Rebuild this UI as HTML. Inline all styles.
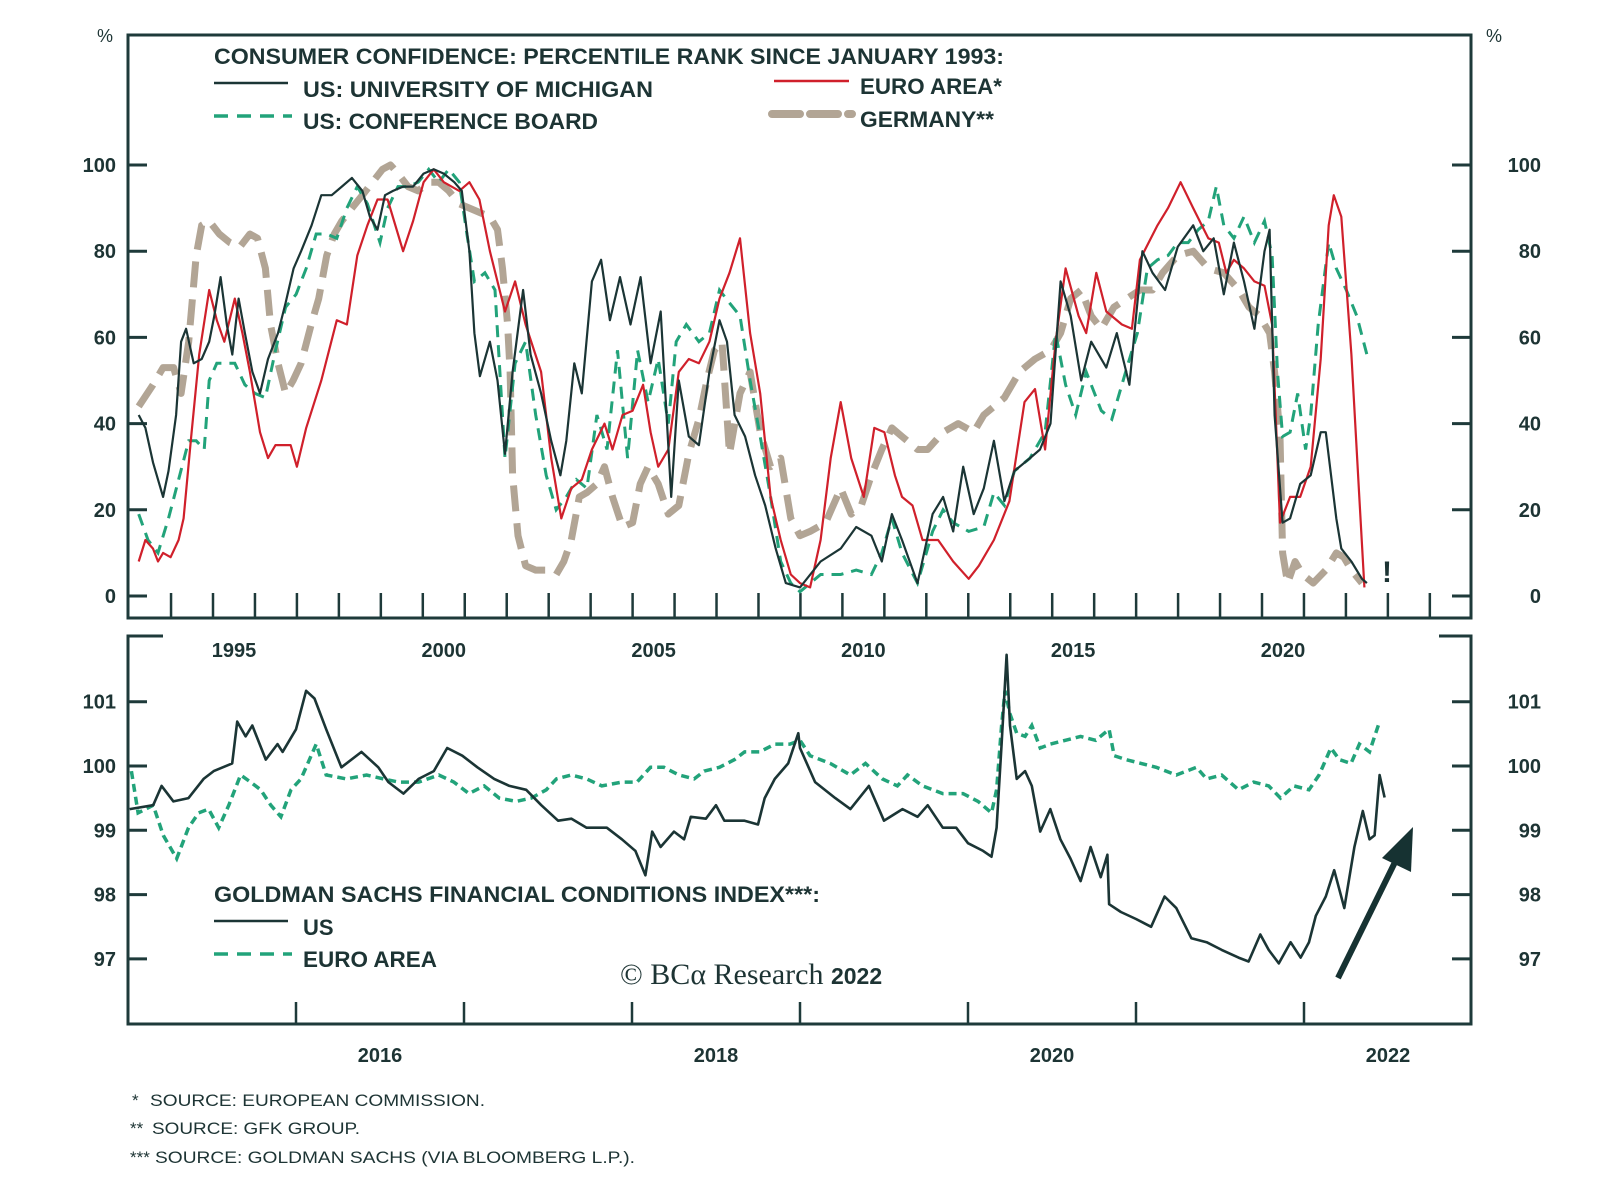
<!DOCTYPE html>
<html><head><meta charset="utf-8"><style>
html,body{margin:0;padding:0;background:#fff;}
svg{display:block;}
text{font-family:"Liberation Sans",sans-serif;fill:#1d3434;}
</style></head><body>
<svg id="chart" width="1600" height="1196" viewBox="0 0 1600 1196" xmlns="http://www.w3.org/2000/svg">
<g id="top-panel"></g>
<g id="bot-panel"></g>
<g>
<text x="214" y="64" font-size="22" font-weight="bold" textLength="790" lengthAdjust="spacingAndGlyphs">CONSUMER CONFIDENCE: PERCENTILE RANK SINCE JANUARY 1993:</text>
<line x1="214" y1="83" x2="288" y2="83" stroke="#1b3535" stroke-width="2.5"/>
<text x="303" y="97" font-size="22" font-weight="bold" textLength="350" lengthAdjust="spacingAndGlyphs">US: UNIVERSITY OF MICHIGAN</text>
<line x1="214" y1="116" x2="292" y2="116" stroke="#22a37a" stroke-width="3.5" stroke-dasharray="14,9"/>
<text x="303" y="129" font-size="22" font-weight="bold" textLength="295" lengthAdjust="spacingAndGlyphs">US: CONFERENCE BOARD</text>
<line x1="774" y1="81" x2="849" y2="81" stroke="#d0202b" stroke-width="2.5"/>
<text x="860" y="94" font-size="22" font-weight="bold" textLength="142" lengthAdjust="spacingAndGlyphs">EURO AREA*</text>
<line x1="772" y1="114" x2="852" y2="114" stroke="#b2a595" stroke-width="8" stroke-dasharray="28,10" stroke-linecap="round"/>
<text x="860" y="127" font-size="22" font-weight="bold" textLength="134" lengthAdjust="spacingAndGlyphs">GERMANY**</text>
</g>
<g>
<text x="214" y="902" font-size="22" font-weight="bold" textLength="606" lengthAdjust="spacingAndGlyphs">GOLDMAN SACHS FINANCIAL CONDITIONS INDEX***:</text>
<line x1="214" y1="921" x2="288" y2="921" stroke="#1b3535" stroke-width="2.5"/>
<text x="303" y="935" font-size="22" font-weight="bold">US</text>
<line x1="214" y1="954" x2="292" y2="954" stroke="#22a37a" stroke-width="3.5" stroke-dasharray="14,9"/>
<text x="303" y="967" font-size="22" font-weight="bold" textLength="134" lengthAdjust="spacingAndGlyphs">EURO AREA</text>
<text x="620" y="984" font-size="30" style="font-family:'Liberation Serif',serif">© BCα Research <tspan font-family="Liberation Sans" font-weight="bold" font-size="23">2022</tspan></text>
</g>
<g>
<text x="132" y="1106" font-size="17">*  <tspan x="150" textLength="335" lengthAdjust="spacingAndGlyphs">SOURCE: EUROPEAN COMMISSION.</tspan></text>
<text x="130" y="1134" font-size="17">**  <tspan x="152" textLength="208" lengthAdjust="spacingAndGlyphs">SOURCE: GFK GROUP.</tspan></text>
<text x="130" y="1163" font-size="17">*** <tspan x="155" textLength="480" lengthAdjust="spacingAndGlyphs">SOURCE: GOLDMAN SACHS (VIA BLOOMBERG L.P.).</tspan></text>
</g>
</svg>
<script>
// ---------- TOP PANEL DATA ----------
const michT=[1993.23,1993.39,1993.57,1993.69,1993.81,1993.94,1994.12,1994.24,1994.36,1994.54,1994.73,1994.91,1995.03,1995.18,1995.33,1995.46,1995.61,1995.76,1995.94,1996.12,1996.31,1996.55,1996.73,1996.92,1997.10,1997.35,1997.58,1997.83,1998.07,1998.31,1998.56,1998.74,1998.92,1999.10,1999.29,1999.53,1999.77,2000.02,2000.26,2000.50,2000.75,2000.93,2001.11,2001.23,2001.36,2001.60,2001.78,2001.96,2002.14,2002.39,2002.57,2002.82,2003.06,2003.28,2003.42,2003.61,2003.79,2004.03,2004.25,2004.46,2004.70,2004.95,2005.19,2005.43,2005.67,2005.92,2006.10,2006.34,2006.58,2006.83,2007.07,2007.25,2007.43,2007.68,2007.92,2008.16,2008.41,2008.65,2008.99,2009.48,2009.96,2010.33,2010.69,2010.94,2011.18,2011.42,2011.79,2012.15,2012.40,2012.64,2012.88,2013.13,2013.37,2013.61,2013.86,2014.10,2014.47,2014.71,2014.96,2015.20,2015.44,2015.69,2015.93,2016.29,2016.54,2016.84,2017.15,2017.39,2017.69,2017.99,2018.36,2018.60,2018.85,2019.09,2019.33,2019.57,2019.82,2020.06,2020.18,2020.30,2020.49,2020.67,2020.91,2021.16,2021.40,2021.52,2021.77,2021.89,2022.13,2022.38,2022.50];
const michV=[42,39,31,27,23,29,42,59,62,54,55,59,65,74,63,56,69,61,52,47,55,61,68,76,80,86,93,93,95,97,94,88,85,93,94,95,95,98,99,98,96,94,80,61,51,59,50,33,52,71,56,47,36,28,36,54,47,73,78,64,74,63,74,54,66,23,50,37,35,52,64,59,42,37,28,21,11,3,2,8,11,16,14,8,19,13,3,19,23,15,30,19,25,36,22,29,32,34,40,73,65,50,59,53,61,49,80,75,71,81,86,80,83,70,82,73,62,80,85,42,17,18,26,28,38,38,18,11,8,4,3];
const confT=[1993.23,1993.45,1993.69,1993.94,1994.18,1994.42,1994.60,1994.79,1994.91,1995.09,1995.27,1995.52,1995.76,1996.00,1996.25,1996.49,1996.73,1996.98,1997.22,1997.46,1997.71,1997.95,1998.19,1998.44,1998.68,1998.98,1999.16,1999.41,1999.65,1999.89,2000.14,2000.38,2000.62,2000.87,2001.05,2001.23,2001.48,2001.72,2001.96,2002.20,2002.45,2002.69,2002.94,2003.18,2003.42,2003.66,2003.91,2004.15,2004.39,2004.64,2004.88,2005.12,2005.37,2005.61,2005.85,2006.04,2006.28,2006.58,2006.83,2007.07,2007.31,2007.56,2007.80,2008.04,2008.29,2008.53,2008.77,2008.99,2009.48,2009.96,2010.33,2010.69,2010.94,2011.18,2011.42,2011.79,2012.15,2012.40,2012.64,2013.01,2013.37,2013.61,2013.86,2014.10,2014.47,2014.83,2015.08,2015.32,2015.56,2015.81,2016.17,2016.42,2016.78,2017.03,2017.27,2017.51,2017.76,2017.99,2018.24,2018.48,2018.72,2018.91,2019.09,2019.33,2019.57,2019.82,2020.06,2020.24,2020.37,2020.49,2020.67,2020.85,2021.04,2021.16,2021.34,2021.59,2021.77,2022.01,2022.26,2022.50];
const confV=[19,13,10,18,27,36,36,34,50,54,54,54,49,47,46,57,67,70,76,84,84,83,90,95,91,82,90,95,95,96,99,96,99,96,84,73,75,71,32,54,59,42,28,20,23,27,25,42,34,57,32,57,45,55,40,59,63,59,61,71,68,65,50,37,23,8,3,1,5,5,6,5,10,18,10,3,15,20,17,15,16,24,21,29,32,38,61,49,42,52,43,41,53,61,76,78,79,82,82,85,87,95,86,83,88,82,87,79,52,37,38,47,34,42,63,82,76,71,65,56];
const euroT=[1993.23,1993.39,1993.57,1993.69,1993.81,1993.99,1994.18,1994.30,1994.48,1994.67,1994.91,1995.09,1995.27,1995.52,1995.70,1995.88,1996.12,1996.31,1996.49,1996.85,1997.00,1997.22,1997.58,1997.95,1998.19,1998.44,1998.68,1998.92,1999.16,1999.53,1999.77,2000.02,2000.26,2000.50,2000.87,2001.11,2001.35,2001.60,2001.96,2002.20,2002.45,2002.82,2003.06,2003.30,2003.54,2003.79,2004.03,2004.33,2004.52,2004.76,2005.00,2005.25,2005.43,2005.61,2005.85,2006.10,2006.34,2006.58,2006.83,2007.07,2007.31,2007.56,2007.80,2008.04,2008.29,2008.53,2008.77,2008.99,2009.23,2009.48,2009.72,2009.96,2010.21,2010.51,2010.76,2011.00,2011.25,2011.42,2011.67,2011.91,2012.28,2012.64,2013.01,2013.25,2013.61,2013.98,2014.34,2014.59,2014.83,2015.08,2015.32,2015.63,2015.81,2016.05,2016.29,2016.66,2016.90,2017.09,2017.51,2017.76,2018.06,2018.36,2018.72,2018.97,2019.15,2019.33,2019.57,2019.82,2020.06,2020.24,2020.43,2020.67,2020.91,2021.16,2021.40,2021.59,2021.71,2021.89,2022.13,2022.32,2022.44];
const euroV=[8,13,11,8,10,9,13,18,37,56,71,64,59,69,61,52,38,32,35,35,30,39,50,64,63,79,86,92,92,80,87,96,99,96,94,96,92,80,66,73,63,52,32,18,25,27,34,40,34,42,43,49,38,30,34,52,55,54,59,69,75,83,61,47,23,13,5,3,2,13,32,45,32,23,39,38,28,23,21,13,13,8,4,7,13,22,45,48,34,59,76,65,61,75,66,63,62,78,86,90,96,90,83,82,75,78,76,73,72,63,17,23,23,30,55,86,93,88,56,23,2];
const gerT=[1993.23,1993.57,1993.81,1994.06,1994.24,1994.42,1994.60,1994.73,1994.91,1995.15,1995.40,1995.64,1995.88,1996.06,1996.25,1996.37,1996.55,1996.73,1996.91,1997.10,1997.34,1997.52,1997.71,1997.89,1998.07,1998.31,1998.56,1998.80,1999.04,1999.23,1999.41,1999.65,1999.89,2000.14,2000.38,2000.62,2000.87,2001.11,2001.35,2001.60,2001.78,2001.90,2002.02,2002.08,2002.14,2002.27,2002.45,2002.69,2002.94,2003.18,2003.36,2003.54,2003.73,2003.91,2004.15,2004.33,2004.52,2004.76,2005.00,2005.18,2005.37,2005.61,2005.85,2006.10,2006.34,2006.58,2006.77,2006.95,2007.13,2007.31,2007.56,2007.80,2008.04,2008.29,2008.53,2008.77,2008.99,2009.23,2009.60,2009.96,2010.21,2010.45,2010.69,2010.94,2011.18,2011.42,2011.79,2012.03,2012.40,2012.76,2013.13,2013.37,2013.86,2014.22,2014.59,2014.96,2015.20,2015.44,2015.69,2015.93,2016.17,2016.47,2016.78,2017.09,2017.39,2017.63,2017.99,2018.36,2018.72,2019.09,2019.45,2019.69,2019.94,2020.18,2020.30,2020.43,2020.49,2020.61,2020.79,2020.97,2021.22,2021.52,2021.77,2021.95,2022.13,2022.38];
const gerV=[44,49,53,53,47,59,79,86,87,84,82,81,84,83,76,63,54,47,50,54,63,69,79,84,87,90,93,96,99,100,98,95,94,96,96,94,91,90,89,88,85,76,63,52,28,14,7,6,6,5,8,13,23,24,26,30,23,16,17,26,30,26,19,21,33,41,50,57,59,33,47,52,38,30,32,18,14,15,17,25,19,21,28,34,39,37,34,34,38,40,38,42,46,52,55,57,61,69,71,65,62,67,69,71,71,75,79,80,76,75,71,67,65,61,52,37,10,3,8,5,3,6,10,9,6,3];
const topTicksY=[0,20,40,60,80,100];
const topYearLabels=[1995,2000,2005,2010,2015,2020];
// ---------- BOTTOM PANEL DATA ----------
const usT=[2015.01,2015.15,2015.20,2015.27,2015.36,2015.45,2015.51,2015.62,2015.65,2015.70,2015.74,2015.82,2015.89,2015.92,2016.00,2016.06,2016.11,2016.18,2016.27,2016.39,2016.49,2016.55,2016.64,2016.73,2016.82,2016.90,2016.99,2017.08,2017.18,2017.27,2017.37,2017.46,2017.56,2017.64,2017.73,2017.85,2017.94,2018.02,2018.08,2018.12,2018.17,2018.25,2018.31,2018.35,2018.44,2018.50,2018.55,2018.67,2018.75,2018.79,2018.85,2018.93,2018.99,2019.00,2019.09,2019.21,2019.30,2019.41,2019.50,2019.61,2019.70,2019.76,2019.85,2019.93,2020.00,2020.09,2020.14,2020.17,2020.20,2020.23,2020.25,2020.29,2020.34,2020.38,2020.43,2020.49,2020.55,2020.61,2020.67,2020.73,2020.79,2020.83,2020.84,2020.91,2021.00,2021.09,2021.17,2021.24,2021.33,2021.42,2021.51,2021.61,2021.67,2021.74,2021.79,2021.85,2021.92,2021.98,2022.03,2022.07,2022.13,2022.18,2022.24,2022.30,2022.35,2022.39,2022.42,2022.45,2022.48];
const usV=[99.33,99.39,99.69,99.45,99.5,99.8,99.92,100.04,100.69,100.46,100.63,100.1,100.34,100.22,100.57,101.17,101.05,100.57,99.98,100.22,99.98,99.75,99.57,99.8,99.92,100.28,100.16,99.98,99.8,99.69,99.63,99.39,99.15,99.18,99.04,99.04,98.86,98.68,98.3,98.98,98.74,98.98,98.86,99.21,99.18,99.39,99.15,99.15,99.09,99.5,99.8,100.04,100.51,100.28,99.75,99.5,99.33,99.69,99.15,99.33,99.21,99.39,99.04,99.04,98.8,98.68,98.59,99.04,100.34,101.73,100.63,99.8,99.92,99.69,98.98,99.33,98.86,98.56,98.21,98.74,98.27,98.62,97.85,97.73,97.62,97.5,97.97,97.79,97.32,97.26,97.14,97.02,96.96,97.38,97.14,96.93,97.26,97.02,97.26,97.67,97.97,98.38,97.79,98.74,99.3,98.86,98.92,99.86,99.51];
const eaT=[2015.02,2015.06,2015.15,2015.21,2015.29,2015.36,2015.42,2015.48,2015.54,2015.60,2015.67,2015.73,2015.79,2015.85,2015.91,2015.97,2016.03,2016.06,2016.12,2016.18,2016.30,2016.42,2016.52,2016.61,2016.73,2016.85,2016.94,2017.03,2017.12,2017.21,2017.31,2017.40,2017.49,2017.55,2017.64,2017.73,2017.82,2017.94,2018.03,2018.11,2018.19,2018.28,2018.37,2018.43,2018.52,2018.61,2018.67,2018.76,2018.85,2018.94,2019.00,2019.06,2019.18,2019.30,2019.39,2019.49,2019.58,2019.64,2019.73,2019.85,2019.97,2020.06,2020.14,2020.17,2020.20,2020.22,2020.25,2020.29,2020.34,2020.38,2020.43,2020.49,2020.58,2020.67,2020.76,2020.84,2020.87,2020.94,2021.03,2021.12,2021.24,2021.36,2021.42,2021.51,2021.61,2021.70,2021.79,2021.86,2021.94,2022.03,2022.09,2022.16,2022.21,2022.28,2022.33,2022.39,2022.42,2022.45];
const eaV=[99.92,99.27,99.39,98.92,98.56,99.04,99.27,99.33,99.04,99.39,99.86,99.75,99.63,99.39,99.21,99.63,99.8,99.98,100.34,99.86,99.8,99.86,99.8,99.75,99.75,99.86,99.75,99.57,99.69,99.5,99.45,99.5,99.63,99.8,99.86,99.8,99.69,99.75,99.75,99.98,99.98,99.86,99.8,99.92,99.98,100.1,100.22,100.22,100.34,100.34,100.4,100.16,100.04,99.86,100.04,99.8,99.69,99.86,99.69,99.57,99.57,99.45,99.27,99.63,100.63,101.17,100.81,100.51,100.46,100.63,100.28,100.34,100.4,100.46,100.4,100.57,100.16,100.1,100.04,99.98,99.86,99.98,99.8,99.86,99.63,99.75,99.69,99.5,99.69,99.63,99.86,100.28,100.1,100.04,100.34,100.22,100.46,100.69];
const botTicksY=[97,98,99,100,101];
const botYearLabels=[2016,2018,2020,2022];
const botYearTicks=[2016,2017,2018,2019,2020,2021,2022];

const NS="http://www.w3.org/2000/svg";
const DARK="#1e3a3a";
function mk(tag,attrs,parent){const e=document.createElementNS(NS,tag);for(const k in attrs)e.setAttribute(k,attrs[k]);parent.appendChild(e);return e;}
const TL=128,TR=1471,TT=35,TB=618;
const tx=t=>213+(t-1995)*41.96;
const ty=v=>596-v*4.31;
const BT=636,BB=1024;
const bx=t=>128+(t-2015)*168;
const by=v=>766-(v-100)*64.3;

const topG=document.getElementById('top-panel');
const botG=document.getElementById('bot-panel');

function pathD(T,V,fx,fy){return T.map((t,i)=>(i?'L':'M')+fx(t).toFixed(1)+','+fy(V[i]).toFixed(1)).join('');}

let r=mk('rect',{x:TL,y:TT,width:TR-TL,height:TB-TT,fill:'none',stroke:DARK,'stroke-width':3},topG);


let t0=mk('text',{x:105,y:42,'font-size':18,'text-anchor':'middle'},topG);t0.textContent='%';


let t1=mk('text',{x:1494,y:42,'font-size':18,'text-anchor':'middle'},topG);t1.textContent='%';


topTicksY.forEach(v=>{
  const y=ty(v);
  let a=mk('line',{x1:TL,x2:TL+19,y1:y,y2:y,stroke:DARK,'stroke-width':3},topG);
  
  
  let b=mk('line',{x1:TR-19,x2:TR,y1:y,y2:y,stroke:DARK,'stroke-width':3},topG);
  
  
  let l=mk('text',{x:116,y:y+7,'font-size':20,'font-weight':'bold','text-anchor':'end'},topG);l.textContent=v;
  
  
  let rr=mk('text',{x:1541,y:y+7,'font-size':20,'font-weight':'bold','text-anchor':'end'},topG);rr.textContent=v;
  
  
});
for(let yr=1994;yr<=2024;yr++){
  let k=mk('line',{x1:tx(yr),x2:tx(yr),y1:TB-25,y2:TB,stroke:DARK,'stroke-width':2.5},topG);
  
  
}
topYearLabels.forEach(yr=>{
  let l=mk('text',{x:tx(yr+0.5),y:657,'font-size':20,'font-weight':'bold','text-anchor':'middle'},topG);l.textContent=yr;
  
  
});
let sG=mk('path',{d:pathD(gerT,gerV,tx,ty),fill:'none',stroke:'#b2a595','stroke-width':7,'stroke-dasharray':'26,12','stroke-linejoin':'round'},topG);


let sC=mk('path',{d:pathD(confT,confV,tx,ty),fill:'none',stroke:'#22a37a','stroke-width':3,'stroke-dasharray':'12,8'},topG);


let sE=mk('path',{d:pathD(euroT,euroV,tx,ty),fill:'none',stroke:'#d0202b','stroke-width':2.2,'stroke-linejoin':'round'},topG);


let sM=mk('path',{d:pathD(michT,michV,tx,ty),fill:'none',stroke:'#1b3535','stroke-width':2.2,'stroke-linejoin':'round'},topG);


let ex=mk('text',{x:1387,y:582,'font-size':30,'font-weight':'bold','text-anchor':'middle'},topG);ex.textContent='!';



let bf=mk('path',{d:`M163,${BT}L128,${BT}L128,${BB}L${TR},${BB}L${TR},${BT}L1439,${BT}`,fill:'none',stroke:DARK,'stroke-width':3},botG);


botTicksY.forEach(v=>{
  const y=by(v);
  let a=mk('line',{x1:TL,x2:TL+19,y1:y,y2:y,stroke:DARK,'stroke-width':3},botG);
  
  
  let b=mk('line',{x1:TR-19,x2:TR,y1:y,y2:y,stroke:DARK,'stroke-width':3},botG);
  
  
  let l=mk('text',{x:116,y:y+7,'font-size':20,'font-weight':'bold','text-anchor':'end'},botG);l.textContent=v;
  
  
  let rr=mk('text',{x:1541,y:y+7,'font-size':20,'font-weight':'bold','text-anchor':'end'},botG);rr.textContent=v;
  
  
});
botYearTicks.forEach(yr=>{
  let k=mk('line',{x1:bx(yr),x2:bx(yr),y1:BB-22,y2:BB,stroke:DARK,'stroke-width':2.5},botG);
  
  
});
botYearLabels.forEach(yr=>{
  let l=mk('text',{x:bx(yr+0.5),y:1062,'font-size':20,'font-weight':'bold','text-anchor':'middle'},botG);l.textContent=yr;
  
  
});
let sEA=mk('path',{d:pathD(eaT,eaV,bx,by),fill:'none',stroke:'#22a37a','stroke-width':3.5,'stroke-dasharray':'8,5'},botG);


let sUS=mk('path',{d:pathD(usT,usV,bx,by),fill:'none',stroke:'#1b3535','stroke-width':2.6,'stroke-linejoin':'round'},botG);


let ar=mk('line',{x1:1338,y1:978,x2:1400,y2:852,stroke:'#163232','stroke-width':6},botG);


let ah=mk('polygon',{points:'1413,827 1382,858 1411,872',fill:'#163232'},botG);


</script>
</body></html>
